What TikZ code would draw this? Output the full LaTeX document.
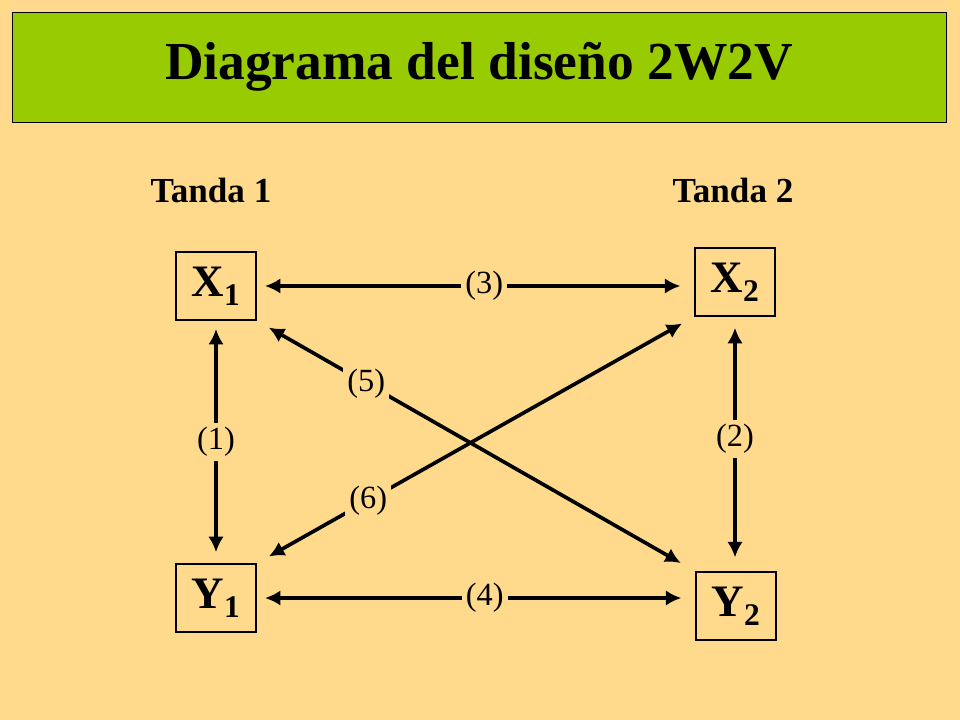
\documentclass[tikz,border=0pt]{standalone}
\usepackage{fontspec}
\setmainfont{Liberation Serif}
\usepackage{tikz}
\usetikzlibrary{arrows.meta,positioning}
\definecolor{mybg}{RGB}{255,217,140}
\definecolor{mygreen}{RGB}{153,204,0}
\tikzset{
  varbox/.style={draw,thick,fill=mybg,minimum width=2cm,minimum height=1.7cm,inner sep=0pt,font=\fontsize{32}{36}\selectfont\bfseries},
  link/.style={line width=2.6pt,{Latex[length=11pt,width=11pt]}-{Latex[length=11pt,width=11pt]}},
  tag/.style={fill=mybg,inner sep=3pt,font=\fontsize{23}{26}\selectfont},
  tanda/.style={font=\fontsize{25}{28}\selectfont\bfseries}
}
\begin{document}
\begin{tikzpicture}[x=0.025cm,y=-0.025cm]
\fill[mybg] (0,0) rectangle (960,720);
\node[draw,fill=mygreen,minimum width=23.35cm,minimum height=2.75cm,font=\fontsize{38}{44}\selectfont\bfseries] (title) at (479,67) {Diagrama del diseño 2W2V};
\node[tanda] (t1) at (211,190) {Tanda 1};
\node[tanda] (t2) at (733,190) {Tanda 2};
\node[varbox] (X1) at (216,286) {X\textsubscript{1}};
\node[varbox] (X2) at (735,282) {X\textsubscript{2}};
\node[varbox] (Y1) at (216,598) {Y\textsubscript{1}};
\node[varbox] (Y2) at (736,606) {Y\textsubscript{2}};
% horizontal
\draw[link,shorten <=6pt,shorten >=10pt] (X1.east) -- (X2.west |- X1.east) node[tag,pos=0.52] {(3)};
\draw[link,shorten <=6pt,shorten >=10pt] (Y1.east) -- (Y2.west |- Y1.east) node[tag,pos=0.52] {(4)};
% vertical
\draw[link,shorten <=6pt,shorten >=8pt] (X1.south) -- (Y1.north) node[tag,midway] {(1)};
\draw[link,shorten <=8pt,shorten >=10pt] (X2.south |- X2.south) -- (X2.south |- Y2.north) node[tag,pos=0.48] {(2)};
% diagonals
\draw[link,shorten <=10pt,shorten >=12pt] (X1.south east) -- (Y2.north west) node[tag,pos=0.25] {(5)};
\draw[link,shorten <=10pt,shorten >=10pt] (Y1.north east) -- (X2.south west) node[tag,pos=0.255] {(6)};
\end{tikzpicture}
\end{document}
